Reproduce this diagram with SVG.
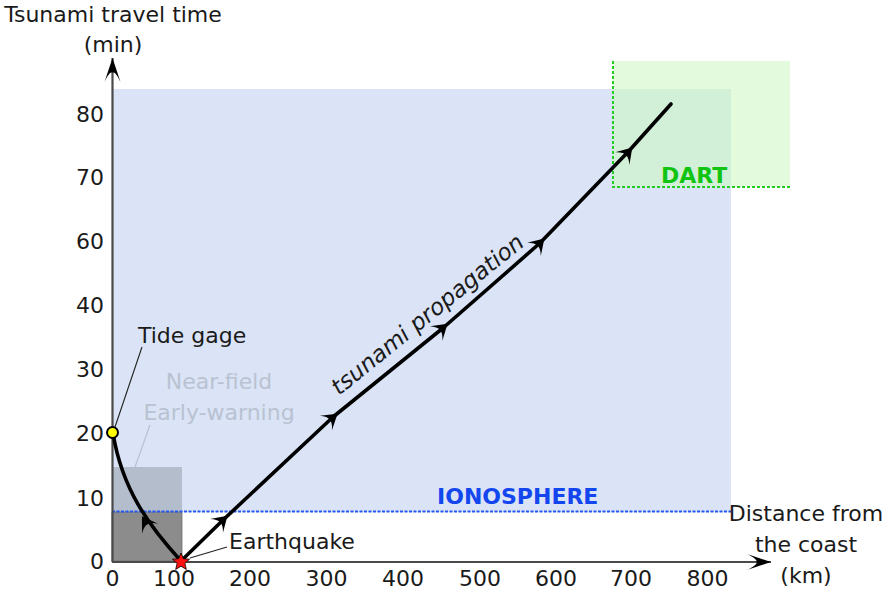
<svg xmlns="http://www.w3.org/2000/svg" width="883" height="591" viewBox="0 0 883 591">
<style>
text{font-family:"DejaVu Sans","Liberation Sans",sans-serif;font-size:22px;fill:#1a1a1a}
.tick{font-size:22px}
.ym{text-anchor:end}
.xm{text-anchor:middle}
.axis{fill:none;stroke:#4a4a4a;stroke-width:2.2}
.wave{fill:none;stroke:#000;stroke-width:3.6;stroke-linejoin:round;stroke-linecap:round}
.ptr{fill:none;stroke:#222;stroke-width:1.1}
</style>
<defs>
<marker id="axhead" markerUnits="userSpaceOnUse" markerWidth="30" markerHeight="20" viewBox="-26 -10 30 20" refX="0" refY="0" orient="auto" overflow="visible">
<path d="M0,0 L-24,-8 C-11,-2 -11,2 -24,8 Z" fill="#000"/>
</marker>
<path id="chev" d="M2,0 L-13,-9.5 C-6,-2.5 -6,2.5 -13,9.5 Z" fill="#000"/>
</defs>

<g id="ionosphere">
<rect x="113" y="89" width="618" height="423" fill="#dae4f6"/>
<text x="437" y="504" style="font-weight:bold;fill:#1446f0">IONOSPHERE</text>
</g>

<g id="dart">
<rect x="613" y="61" width="177" height="126" fill="#ccf8bf" fill-opacity="0.55"/>
<polyline points="613,61 613,187 790,187" fill="none" stroke="#22cc22" stroke-width="2" stroke-dasharray="3,2"/>
<text x="661" y="183" style="font-weight:bold;fill:#11c411">DART</text>
</g>

<g id="near-field">
<rect x="112" y="467" width="70" height="45" fill="#b4bdcb"/>
<rect x="112" y="512" width="70" height="49" fill="#8c8c8c" stroke="#707070" stroke-width="0.8"/>
<line x1="150" y1="425" x2="135" y2="467" stroke="#b8c1cf" stroke-width="1.2"/>
<text x="219" y="389" class="xm" style="fill:#b9c2d1">Near-field</text>
<text x="219" y="420" class="xm" style="fill:#b9c2d1">Early-warning</text>
</g>

<g id="ionosphere-line">
<line x1="112" y1="511.5" x2="731" y2="511.5" stroke="#2659f2" stroke-width="2" stroke-dasharray="3,1.5"/>
</g>

<g id="axes">
<line class="axis" x1="112.5" y1="562" x2="112.5" y2="58" marker-end="url(#axhead)"/>
<line class="axis" x1="112" y1="562" x2="771" y2="562" marker-end="url(#axhead)"/>
<text x="113" y="22" class="xm">Tsunami travel time</text>
<text x="113" y="52" class="xm">(min)</text>
<text x="806" y="521" class="xm">Distance from</text>
<text x="806" y="552" class="xm">the coast</text>
<text x="806" y="583" class="xm">(km)</text>
<g class="tick">
<text x="104" y="122" class="ym">80</text>
<text x="104" y="185" class="ym">70</text>
<text x="104" y="249" class="ym">60</text>
<text x="104" y="313" class="ym">40</text>
<text x="104" y="377" class="ym">30</text>
<text x="104" y="441" class="ym">20</text>
<text x="104" y="506" class="ym">10</text>
<text x="104" y="569" class="ym">0</text>
<text x="112.5" y="586" class="xm">0</text>
<text x="174" y="586" class="xm">100</text>
<text x="250" y="586" class="xm">200</text>
<text x="326.5" y="586" class="xm">300</text>
<text x="403" y="586" class="xm">400</text>
<text x="480" y="586" class="xm">500</text>
<text x="556" y="586" class="xm">600</text>
<text x="631" y="586" class="xm">700</text>
<text x="707.5" y="586" class="xm">800</text>
</g>
</g>

<g id="connectors">
<path class="wave" d="M181,561 C150,527 122,490 113,433"/>
<use href="#chev" transform="translate(143,518) rotate(-123)"/>
<path class="wave" d="M181,561 L222,521 L333,417 L443,328 L540,243 L628,152 L671,104"/>
<use href="#chev" transform="translate(226,517) rotate(-43)"/>
<use href="#chev" transform="translate(336,415) rotate(-39)"/>
<use href="#chev" transform="translate(446,325) rotate(-41)"/>
<use href="#chev" transform="translate(543,240) rotate(-46)"/>
<use href="#chev" transform="translate(631,149) rotate(-48)"/>
<text transform="translate(339,396) rotate(-39)" style="font-style:italic;font-size:23px">tsunami propagation</text>
</g>

<g id="tide-gage">
<line class="ptr" x1="115" y1="427" x2="142" y2="347"/>
<circle cx="112.5" cy="432.5" r="5.5" fill="#ffff00" stroke="#000" stroke-width="2"/>
<text x="138" y="343">Tide gage</text>
</g>

<g id="earthquake">
<line class="ptr" x1="190" y1="558" x2="227" y2="547"/>
<polygon points="181,553 183.4,558.7 189.6,559.2 184.9,563.3 186.3,569.4 181,566.2 175.7,569.4 177.1,563.3 172.4,559.2 178.6,558.7" fill="#ff1111" stroke="#000" stroke-width="0.8"/>
<text x="229" y="549">Earthquake</text>
</g>
</svg>
